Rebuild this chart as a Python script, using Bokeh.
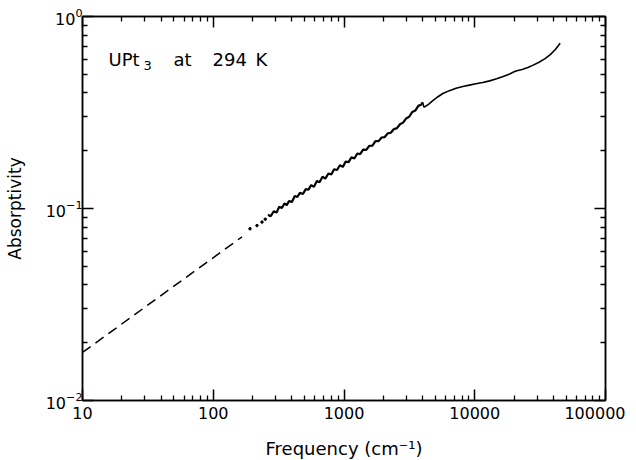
from bokeh.plotting import figure
from bokeh.models import Range1d, LogAxis, FixedTicker, PrintfTickFormatter, CustomJSTickFormatter, Label
from bokeh.embed import file_html
from bokeh.resources import INLINE

# Hagen-Rubens style dashed extrapolation (two end points)
dash_freq = [10, 166]
dash_abs = [0.0178, 0.0712]

# sparse dots at low-frequency start of the data
dot_freq = [191, 216, 236, 250]
dot_abs = [0.0784, 0.0815, 0.0850, 0.0880]

# noisy measured region
noisy_freq = [262, 275, 290, 305, 320, 335, 350, 365, 380, 400, 420, 440, 460, 485, 510, 535,
              560, 590, 620, 650, 685, 720, 760, 800, 840, 885, 930, 980, 1030, 1085, 1140,
              1200, 1265, 1330, 1400, 1480, 1560, 1650, 1740, 1840, 1940, 2050, 2160, 2280,
              2400, 2540, 2680, 2830, 2990, 3150, 3330, 3510, 3700, 3880, 4000]
noisy_abs = [0.0927, 0.0911, 0.0967, 0.0952, 0.1023, 0.1005, 0.1062, 0.1041, 0.1093, 0.1081,
             0.1162, 0.1147, 0.1208, 0.1190, 0.1262, 0.1252, 0.1324, 0.1298, 0.1389, 0.1371,
             0.1463, 0.1432, 0.1521, 0.1504, 0.1602, 0.1586, 0.1681, 0.1647, 0.1755, 0.1745,
             0.1849, 0.1821, 0.1934, 0.1921, 0.2028, 0.2019, 0.2121, 0.2123, 0.2241, 0.2242,
             0.2344, 0.2356, 0.2462, 0.2480, 0.2586, 0.2622, 0.2745, 0.2800, 0.2944, 0.3005,
             0.3182, 0.3237, 0.3424, 0.3470, 0.3575]

# smooth high-frequency region
smooth_freq = [4000, 4080, 4200, 4450, 4780, 5200, 5700, 6400, 7200, 8100, 9100, 10200, 11500,
               13000, 14700, 16500, 18500, 20000, 21000, 23000, 25500, 28000, 31000, 34500,
               38000, 41500, 45000]
smooth_abs = [0.357, 0.338, 0.340, 0.350, 0.365, 0.381, 0.397, 0.411, 0.423, 0.432, 0.439, 0.446,
              0.453, 0.462, 0.474, 0.487, 0.502, 0.515, 0.522, 0.530, 0.542, 0.558, 0.578, 0.603,
              0.635, 0.675, 0.725]

x_major = [10, 100, 1000, 10000, 100000]
y_major = [0.01, 0.1, 1]

FONT = "DejaVu Sans"

p = figure(x_axis_type="log", y_axis_type="log",
           x_range=Range1d(10, 100000), y_range=Range1d(0.01, 1),
           frame_width=523, frame_height=384,
           min_border_left=82, min_border_top=16, min_border_right=20, min_border_bottom=60,
           output_backend="svg", toolbar_location=None, background_fill_color="white")
p.xgrid.visible = False
p.ygrid.visible = False
p.outline_line_color = "black"
p.outline_line_width = 1.5

xminor = [m * 10 ** e for e in range(1, 5) for m in range(2, 10)]
yminor = [m * 10.0 ** e for e in (-2, -1) for m in range(2, 10)]


def style(ax):
    ax.axis_line_color = "black"
    ax.axis_line_width = 1.5
    ax.major_tick_in = 11
    ax.major_tick_out = 0
    ax.minor_tick_in = 5
    ax.minor_tick_out = 0
    ax.major_tick_line_color = "black"
    ax.minor_tick_line_color = "black"
    ax.major_tick_line_width = 1.5
    ax.minor_tick_line_width = 1.3
    ax.major_label_text_font = FONT
    ax.major_label_text_font_size = "16px"
    ax.major_label_text_color = "black"
    ax.axis_label_text_font = FONT
    ax.axis_label_text_font_size = "17px"
    ax.axis_label_text_font_style = "normal"
    ax.axis_label_text_color = "black"


xa = p.xaxis[0]
xa.ticker = FixedTicker(ticks=x_major, minor_ticks=xminor)
xa.formatter = PrintfTickFormatter(format="%d")
xa.axis_label = "Frequency (cm\u207b\u00b9)"
style(xa)
xa.axis_label_text_font_size = "18px"
xa.major_label_standoff = 6
xa.axis_label_standoff = 16

ya = p.yaxis[0]
ya.ticker = FixedTicker(ticks=y_major, minor_ticks=yminor)
ya.axis_label = "Absorptivity"
style(ya)
ya.major_label_standoff = 0
ya.axis_label_standoff = 18

blank = "return ''"
top = LogAxis(ticker=FixedTicker(ticks=x_major, minor_ticks=xminor),
              formatter=CustomJSTickFormatter(code=blank), major_label_standoff=0)
style(top)
p.add_layout(top, "above")
right = LogAxis(ticker=FixedTicker(ticks=y_major, minor_ticks=yminor),
                formatter=CustomJSTickFormatter(code=blank), major_label_standoff=0)
style(right)
p.add_layout(right, "right")

p.line(dash_freq, dash_abs, line_color="black", line_width=1.5, line_dash="10 6")
p.scatter(dot_freq, dot_abs, size=2.5, color="black")
p.line(noisy_freq, noisy_abs, line_color="black", line_width=2.2)
p.line(smooth_freq, smooth_abs, line_color="black", line_width=1.6)

for txt, sx, sy, fs in [("UPt", 26, 341, "18px"), ("3", 61, 335, "13px"),
                         ("at", 91, 341, "18px"), ("294", 130, 341, "18px"),
                         ("K", 173, 341, "18px")]:
    p.add_layout(Label(x=sx, y=sy, x_units="screen", y_units="screen", text=txt,
                       text_font=FONT, text_font_size=fs, text_color="black",
                       text_baseline="alphabetic", text_align="left"))

open("out.html", "w").write(file_html(p, INLINE))
